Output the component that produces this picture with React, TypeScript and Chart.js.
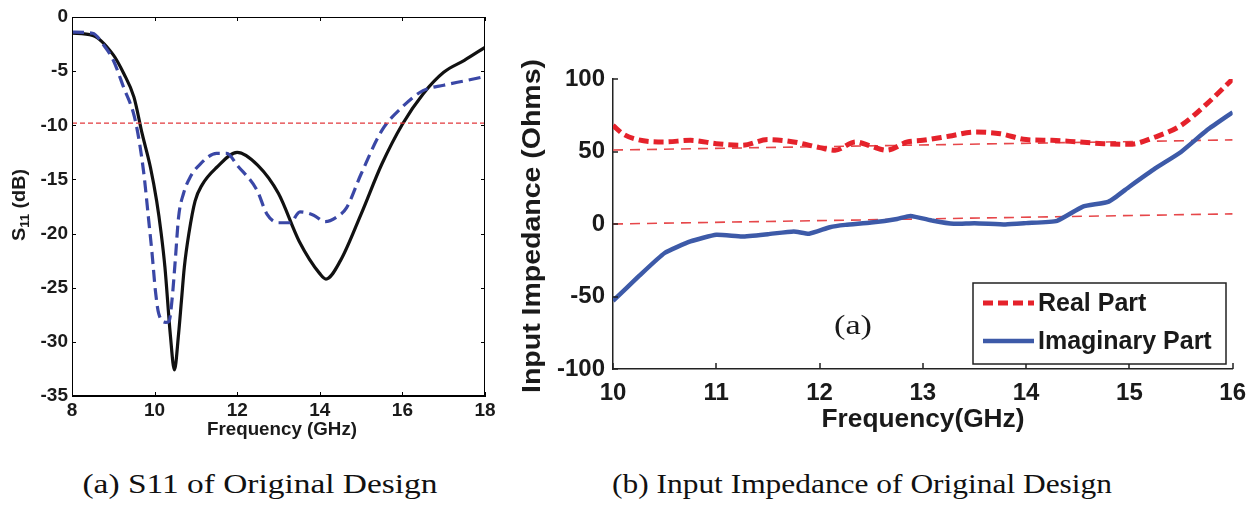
import React, { useEffect, useLayoutEffect, useRef } from "react";
import { Chart, registerables } from "chart.js";
Chart.register(...registerables);

// ---------- (a) S11 data ----------
const s11SolidFreq = [8, 8.5, 9, 9.25, 9.5, 9.7, 9.9, 10.05, 10.16, 10.25, 10.38, 10.48, 10.58, 10.65, 10.72, 10.83, 10.98, 11.15, 11.5, 12, 12.5, 13, 13.5, 14, 14.15, 14.5, 15, 15.5, 16, 16.5, 17, 17.5, 18];
const s11SolidDb = [-1.5, -1.7, -3.5, -5.2, -7.4, -10.8, -13.9, -17, -20, -23.1, -29.3, -32.6, -29.3, -26.2, -23.1, -20, -17, -15.5, -13.9, -12.5, -13.7, -16.3, -20.7, -23.7, -24.2, -22.5, -18.2, -13.6, -9.9, -7.1, -5.1, -4.0, -2.8];
const s11DashFreq = [8, 8.5, 8.75, 9, 9.25, 9.51, 9.65, 9.75, 9.85, 9.94, 10.02, 10.1, 10.27, 10.35, 10.42, 10.5, 10.58, 10.7, 10.86, 11.1, 11.5, 11.75, 12, 12.48, 12.72, 13, 13.28, 13.52, 13.85, 14.13, 14.4, 14.65, 15, 15.5, 16, 16.5, 17, 17.5, 18];
const s11DashDb = [-1.4, -1.5, -2.5, -4.0, -6.5, -9.2, -12.0, -14.8, -18.5, -21.9, -25.3, -27.4, -28.2, -28.1, -26.2, -22.5, -18.5, -16.3, -14.8, -13.6, -12.6, -12.6, -13.7, -16, -18.2, -19, -19, -18, -18.3, -18.9, -18.5, -17.6, -14.5, -10.5, -8.3, -6.8, -6.3, -5.9, -5.5];
const s11ThresholdX = [8, 18];
const s11ThresholdY = [-9.8, -9.8];
const s11XTicks = [8, 10, 12, 14, 16, 18];
const s11YTicks = [0, -5, -10, -15, -20, -25, -30, -35];

// ---------- (b) Impedance data ----------
const zRealFreq = [10, 10.1, 10.25, 10.5, 10.75, 11, 11.25, 11.5, 11.75, 12, 12.15, 12.35, 12.5, 12.65, 12.85, 13, 13.25, 13.5, 13.75, 14, 14.25, 14.5, 14.75, 15, 15.25, 15.5, 15.75, 16];
const zReal = [68, 62, 58, 56.6, 57.7, 55.4, 54.3, 58.2, 56.6, 52.7, 50.9, 56.6, 53.6, 50.9, 56.6, 57.7, 60.5, 63.4, 62.3, 58.2, 57.7, 56.6, 55.4, 55, 60, 68, 82.9, 100];
const zImagFreq = [10, 10.25, 10.5, 10.75, 11, 11.25, 11.5, 11.75, 11.9, 12.1, 12.25, 12.5, 12.75, 12.88, 13.1, 13.3, 13.5, 13.8, 14, 14.3, 14.55, 14.8, 15, 15.25, 15.5, 15.75, 16];
const zImag = [-53, -36, -20, -12, -7.4, -8.6, -7, -5.1, -6.7, -2.2, -0.6, 1, 3.5, 5.6, 2.2, 0.1, 0.6, -0.3, 0.6, 2.2, 12, 15.4, 25.7, 38.3, 49.7, 64.6, 77];
const zRefX = [10, 16];
const zRefUpper = [51, 58];
const zRefLower = [0, 7];
const zXTicks = [10, 11, 12, 13, 14, 15, 16];
const zYTicks = [-100, -50, 0, 50, 100];

const SANS = '"Liberation Sans", Arial, sans-serif';
const SERIF = '"Liberation Serif", "Times New Roman", serif';
const INK = "#1a1a1a";

const pts = (xs: number[], ys: number[]) => xs.map((x, i) => ({ x, y: ys[i] }));

// draw text centred at (cx, cy), stretched along its run to the given length
function fitText(ctx: CanvasRenderingContext2D, text: string, cx: number, cy: number, len: number, rot = 0) {
  ctx.save();
  ctx.translate(cx, cy);
  if (rot) ctx.rotate(rot);
  const w = ctx.measureText(text).width;
  ctx.scale(len / w, 1);
  ctx.textAlign = "center";
  ctx.textBaseline = "middle";
  ctx.fillText(text, 0, 0);
  ctx.restore();
}

const s11Plugin = {
  id: "s11Decor",
  afterDraw(chart: any) {
    const { ctx, chartArea: a, scales } = chart;
    const xs = scales.x, ys = scales.y;
    ctx.save();
    ctx.strokeStyle = "#000";
    ctx.lineWidth = 1;
    ctx.strokeRect(a.left + 0.5, a.top + 0.5, a.right - a.left - 1, a.bottom - a.top - 1);
    ctx.beginPath();
    s11YTicks.forEach((v) => {
      const y = Math.round(ys.getPixelForValue(v)) + 0.5;
      ctx.moveTo(a.left, y); ctx.lineTo(a.left + 4, y);
      ctx.moveTo(a.right, y); ctx.lineTo(a.right - 4, y);
    });
    s11XTicks.forEach((v) => {
      const x = Math.round(xs.getPixelForValue(v)) + 0.5;
      ctx.moveTo(x, a.bottom); ctx.lineTo(x, a.bottom - 4);
      ctx.moveTo(x, a.top); ctx.lineTo(x, a.top + 4);
    });
    ctx.stroke();
    ctx.fillStyle = INK;
    ctx.font = `bold 18px ${SANS}`;
    fitText(ctx, "Frequency (GHz)", 282, 430, 150);
    // y title with subscript, stretched to the reference run length
    ctx.translate(19, 205);
    ctx.rotate(-Math.PI / 2);
    const big = `bold 18px ${SANS}`;
    const small = `bold 12px ${SANS}`;
    ctx.font = big; const wS = ctx.measureText("S").width;
    ctx.font = small; const w11 = ctx.measureText("11").width;
    ctx.font = big; const wRest = ctx.measureText(" (dB)").width;
    const total = wS + w11 + wRest;
    ctx.scale(72 / total, 1);
    let x0 = -total / 2;
    ctx.textAlign = "left";
    ctx.textBaseline = "alphabetic";
    ctx.font = big; ctx.fillText("S", x0, 6); x0 += wS;
    ctx.font = small; ctx.fillText("11", x0, 10); x0 += w11;
    ctx.font = big; ctx.fillText(" (dB)", x0, 6);
    ctx.restore();
  },
};

const zPlugin = {
  id: "zDecor",
  afterDraw(chart: any) {
    const { ctx, chartArea: a, scales } = chart;
    const xs = scales.x, ys = scales.y;
    ctx.save();
    ctx.strokeStyle = "#222";
    ctx.lineWidth = 1.5;
    ctx.beginPath();
    zYTicks.forEach((v) => {
      const y = Math.round(ys.getPixelForValue(v));
      ctx.moveTo(a.left, y); ctx.lineTo(a.left + 5, y);
    });
    zXTicks.forEach((v) => {
      const x = Math.round(xs.getPixelForValue(v));
      ctx.moveTo(x, a.bottom); ctx.lineTo(x, a.bottom - 6);
    });
    ctx.stroke();
    ctx.fillStyle = INK;
    ctx.font = `bold 25px ${SANS}`;
    fitText(ctx, "Frequency(GHz)", 423, 420, 203);
    fitText(ctx, "Input Impedance (Ohms)", 33, 226, 334, -Math.PI / 2);
    // (a) annotation
    ctx.font = `28px ${SERIF}`;
    fitText(ctx, "(a)", 353, 327, 38);
    // legend
    const lx = 473, ly = 283, lw = 253, lh = 81;
    ctx.fillStyle = "#fff";
    ctx.fillRect(lx, ly, lw, lh);
    ctx.strokeStyle = "#222";
    ctx.lineWidth = 1.5;
    ctx.strokeRect(lx, ly, lw, lh);
    const ds = chart.data.datasets;
    const items = [ds[0], ds[1]];
    const rowY = [303, 341];
    items.forEach((d: any, i: number) => {
      ctx.beginPath();
      ctx.strokeStyle = d.borderColor;
      ctx.lineWidth = d.borderWidth;
      ctx.setLineDash(d.borderDash || []);
      ctx.moveTo(lx + 10, rowY[i]);
      ctx.lineTo(lx + 61, rowY[i]);
      ctx.stroke();
      ctx.setLineDash([]);
      ctx.fillStyle = INK;
      ctx.font = `bold 25px ${SANS}`;
      ctx.textAlign = "left";
      ctx.textBaseline = "middle";
      ctx.fillText(d.label, lx + 65, rowY[i] + 1);
    });
    ctx.restore();
  },
};

function S11Chart() {
  const ref = useRef<HTMLCanvasElement | null>(null);
  useEffect(() => {
    const chart = new Chart(ref.current as HTMLCanvasElement, {
      type: "line",
      data: {
        datasets: [
          { label: "Threshold", data: pts(s11ThresholdX, s11ThresholdY), borderColor: "#e2383c", borderWidth: 1.2, borderDash: [5, 3], pointRadius: 0 },
          { label: "S11 dashed", data: pts(s11DashFreq, s11DashDb), borderColor: "#3a47a6", borderWidth: 3.2, borderDash: [12, 6], pointRadius: 0, cubicInterpolationMode: "monotone" },
          { label: "S11 solid", data: pts(s11SolidFreq, s11SolidDb), borderColor: "#111", borderWidth: 3.2, pointRadius: 0, cubicInterpolationMode: "monotone" },
        ],
      } as any,
      options: {
        animation: false,
        responsive: false,
        maintainAspectRatio: false,
        layout: { padding: { top: 17, right: 15, left: 0, bottom: 0 } },
        plugins: { legend: { display: false }, tooltip: { enabled: false } },
        scales: {
          x: {
            type: "linear", min: 8, max: 18,
            afterBuildTicks: (s: any) => { s.ticks = s11XTicks.map((v) => ({ value: v })); },
            afterFit: (s: any) => { s.height = 54; },
            grid: { display: false, drawTicks: false },
            border: { display: true, color: "#000", width: 1 },
            ticks: { color: INK, font: { family: SANS, size: 19, weight: 700 }, padding: 3, maxRotation: 0, autoSkip: false },
          },
          y: {
            type: "linear", min: -35, max: 0,
            afterBuildTicks: (s: any) => { s.ticks = s11YTicks.map((v) => ({ value: v })); },
            afterFit: (s: any) => { s.width = 72; },
            grid: { display: false, drawTicks: false },
            border: { display: true, color: "#000", width: 1 },
            ticks: { color: INK, font: { family: SANS, size: 19, weight: 700 }, padding: 4, autoSkip: false },
          },
        },
      } as any,
      plugins: [s11Plugin],
    });
    return () => chart.destroy();
  }, []);
  return <canvas ref={ref} width={500} height={450} style={{ position: "absolute", left: 0, top: 0, width: 500, height: 450 }} />;
}

function ZChart() {
  const ref = useRef<HTMLCanvasElement | null>(null);
  useEffect(() => {
    const chart = new Chart(ref.current as HTMLCanvasElement, {
      type: "line",
      data: {
        datasets: [
          { label: "Real Part", data: pts(zRealFreq, zReal), borderColor: "#e5222b", borderWidth: 5, borderDash: [10, 5], pointRadius: 0, cubicInterpolationMode: "monotone" },
          { label: "Imaginary Part", data: pts(zImagFreq, zImag), borderColor: "#3d5aa8", borderWidth: 4.5, pointRadius: 0, tension: 0.15 },
          { label: "Ref 50", data: pts(zRefX, zRefUpper), borderColor: "#e6474a", borderWidth: 1.6, borderDash: [10, 7], pointRadius: 0 },
          { label: "Ref 0", data: pts(zRefX, zRefLower), borderColor: "#e6474a", borderWidth: 1.6, borderDash: [10, 7], pointRadius: 0 },
        ],
      } as any,
      options: {
        animation: false,
        responsive: false,
        maintainAspectRatio: false,
        layout: { padding: { top: 79, right: 23, left: 0, bottom: 0 } },
        plugins: { legend: { display: false }, tooltip: { enabled: false } },
        scales: {
          x: {
            type: "linear", min: 10, max: 16,
            afterBuildTicks: (s: any) => { s.ticks = zXTicks.map((v) => ({ value: v })); },
            afterFit: (s: any) => { s.height = 81; },
            grid: { display: false, drawTicks: false },
            border: { display: true, color: "#222", width: 1.5 },
            ticks: { color: INK, font: { family: SANS, size: 24, weight: 700 }, padding: 10, maxRotation: 0, autoSkip: false },
          },
          y: {
            type: "linear", min: -100, max: 100,
            afterBuildTicks: (s: any) => { s.ticks = zYTicks.map((v) => ({ value: v })); },
            afterFit: (s: any) => { s.width = 113; },
            grid: { display: false, drawTicks: false },
            border: { display: true, color: "#222", width: 1.5 },
            ticks: { color: INK, font: { family: SANS, size: 24, weight: 700 }, padding: 8, autoSkip: false },
          },
        },
      } as any,
      plugins: [zPlugin],
    });
    return () => chart.destroy();
  }, []);
  return <canvas ref={ref} width={756} height={450} style={{ position: "absolute", left: 500, top: 0, width: 756, height: 450 }} />;
}

function Caption({ text, cx, width }: { text: string; cx: number; width: number }) {
  const ref = useRef<HTMLSpanElement | null>(null);
  useLayoutEffect(() => {
    const el = ref.current;
    if (!el) return;
    el.style.transform = "none";
    const w = el.getBoundingClientRect().width;
    if (w > 0) el.style.transform = `translateX(-50%) scaleX(${width / w})`;
  }, [text, width]);
  return (
    <span
      ref={ref}
      style={{
        position: "absolute", left: cx, top: 470, fontFamily: SERIF, fontSize: 27, lineHeight: "28px",
        color: "#111", whiteSpace: "nowrap", transformOrigin: "50% 50%", display: "inline-block",
      }}
    >
      {text}
    </span>
  );
}

export default function App() {
  return (
    <div style={{ position: "fixed", left: 0, top: 0, width: 1256, height: 506, background: "#fff", overflow: "hidden" }}>
      <S11Chart />
      <ZChart />
      <Caption text="(a) S11 of Original Design" cx={260} width={355} />
      <Caption text="(b) Input Impedance of Original Design" cx={862} width={500} />
    </div>
  );
}
